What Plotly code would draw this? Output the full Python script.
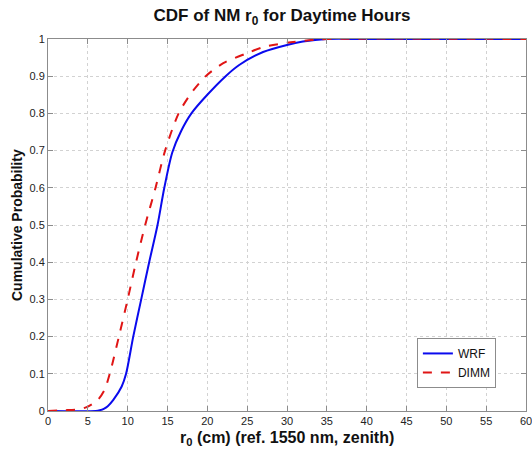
import plotly.graph_objects as go

# WRF (blue, solid)
wrf_r0 = [0, 6, 6.5, 7, 7.5, 8.2, 9.25, 9.8, 10.7, 11.7, 12.7, 13.75, 14.6, 15.6,
          16.7, 18, 20, 22.3, 24, 27, 30, 32, 35, 40, 60]
wrf_cdf = [0, 0, 0.002, 0.006, 0.013, 0.03, 0.066, 0.1, 0.2, 0.3, 0.4, 0.5, 0.6, 0.695,
           0.752, 0.8, 0.85, 0.9, 0.93, 0.965, 0.984, 0.993, 1, 1, 1]

# DIMM (red, dashed)
dimm_r0 = [0, 2, 4, 5, 6.25, 7.1, 7.75, 8.9, 10.0, 11.05, 12.2, 13.5, 14.7, 16.4,
           18, 19.8, 22, 25, 27, 30, 33, 35, 60]
dimm_cdf = [0, 0.002, 0.005, 0.012, 0.03, 0.057, 0.1, 0.2, 0.3, 0.4, 0.5, 0.6, 0.7, 0.8,
            0.855, 0.9, 0.935, 0.962, 0.978, 0.99, 0.997, 1, 1]

x_ticks = list(range(0, 61, 5))
y_ticks = [round(i * 0.1, 1) for i in range(11)]
y_ticktext = ["0", "0.1", "0.2", "0.3", "0.4", "0.5", "0.6", "0.7", "0.8", "0.9", "1"]

FONT = "Liberation Sans, Arial, sans-serif"

fig = go.Figure()
fig.add_trace(go.Scatter(x=wrf_r0, y=wrf_cdf, mode="lines", name="WRF",
                         line=dict(color="#0a0aee", width=2, shape="spline", smoothing=0.8)))
fig.add_trace(go.Scatter(x=dimm_r0, y=dimm_cdf, mode="lines", name="DIMM",
                         line=dict(color="#e01515", width=2, dash="dash", shape="spline", smoothing=0.8)))

axis_common = dict(
    showline=True, linecolor="#8c8c8c", linewidth=1, mirror="ticks",
    ticks="inside", ticklen=5, tickcolor="#8c8c8c",
    showgrid=True, gridcolor="#d2d2d2", griddash="dot", gridwidth=1,
    zeroline=False, tickfont=dict(family=FONT, size=11, color="#222"),
    automargin=False,
)

fig.update_layout(
    width=532, height=456,
    margin=dict(l=48, r=6, t=39, b=45),
    paper_bgcolor="white", plot_bgcolor="white",
    title=dict(text="<b>CDF of NM r<sub>0</sub> for Daytime Hours</b>",
               x=282 / 532, xanchor="center", y=1 - 15 / 456, yanchor="middle",
               yref="container", font=dict(family=FONT, size=17, color="#111")),
    xaxis=dict(range=[0, 60], tickvals=x_ticks, ticktext=[str(v) for v in x_ticks],
               ticklabeloverflow="allow", **axis_common),
    yaxis=dict(range=[0, 1], tickvals=y_ticks, ticktext=y_ticktext, **axis_common),
    legend=dict(x=0.937, xanchor="right", y=0.062, yanchor="bottom",
                bordercolor="#8c8c8c", borderwidth=1, bgcolor="white",
                font=dict(family=FONT, size=12, color="#111"),
                itemwidth=30, tracegroupgap=2),
    showlegend=True,
)

fig.add_annotation(text="<b>r<sub>0</sub> (cm) (ref. 1550 nm, zenith)</b>",
                   xref="paper", yref="paper", x=0.5, y=0, xanchor="center",
                   yanchor="middle", yshift=-27, showarrow=False,
                   font=dict(family=FONT, size=16, color="#111"))
fig.add_annotation(text="<b>Cumulative Probability</b>",
                   xref="paper", yref="paper", x=0, y=0.5, xanchor="center",
                   yanchor="middle", xshift=-31, textangle=-90, showarrow=False,
                   font=dict(family=FONT, size=14, color="#111"))

fig.write_html("out.html")
